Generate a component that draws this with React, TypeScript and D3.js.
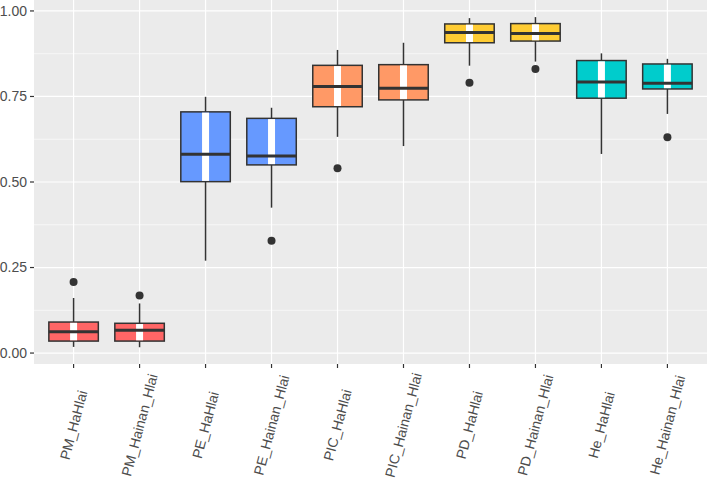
import { useEffect, useRef } from "react";
import * as d3 from "d3";

// group names, in order along the x axis
const groups = [
  "PM_HaHlai", "PM_Hainan_Hlai", "PE_HaHlai", "PE_Hainan_Hlai", "PIC_HaHlai",
  "PIC_Hainan_Hlai", "PD_HaHlai", "PD_Hainan_Hlai", "He_HaHlai", "He_Hainan_Hlai",
];
// box stats
const lowerWhisker = [0.018, 0.017, 0.27, 0.425, 0.632, 0.605, 0.84, 0.852, 0.582, 0.699];
const q1 = [0.035, 0.035, 0.501, 0.55, 0.72, 0.74, 0.907, 0.912, 0.745, 0.772];
const median = [0.062, 0.067, 0.581, 0.576, 0.779, 0.774, 0.937, 0.934, 0.792, 0.789];
const q3 = [0.0906, 0.087, 0.705, 0.686, 0.841, 0.843, 0.962, 0.963, 0.855, 0.845];
const upperWhisker = [0.161, 0.145, 0.749, 0.717, 0.886, 0.907, 0.979, 0.982, 0.876, 0.86];
const outliers = [[0.208], [0.168], [], [0.328], [0.54], [], [0.79], [0.83], [], [0.631]];
const fills = [
  "#FF6666", "#FF6666", "#6699FF", "#6699FF", "#FF9966",
  "#FF9966", "#FFCC33", "#FFCC33", "#00CCCC", "#00CCCC",
];
const yTicks = [0, 0.25, 0.5, 0.75, 1];

export default function App() {
  const ref = useRef<SVGSVGElement | null>(null);

  useEffect(() => {
    const svg = d3.select(ref.current);
    svg.selectAll("*").remove();

    const W = 709, H = 478;
    const panel = { left: 34, right: 707, top: 0, bottom: 364 };
    const font = "Liberation Sans, Arial, sans-serif";

    const x = d3.scaleLinear().domain([0.4, groups.length + 0.6]).range([panel.left, panel.right]);
    const y = d3.scaleLinear().domain([-0.032, 1.032]).range([panel.bottom, panel.top]);
    const unit = x(2) - x(1);
    const boxW = unit * 0.75;
    const innerW = 7;

    svg.attr("width", W).attr("height", H);

    // panel background + grid
    svg.append("rect")
      .attr("x", panel.left).attr("y", panel.top)
      .attr("width", panel.right - panel.left).attr("height", panel.bottom - panel.top)
      .attr("fill", "#EBEBEB");

    const grid = svg.append("g");
    const minor = yTicks.slice(0, -1).map((t) => t + 0.125);
    grid.selectAll(".minor").data(minor).join("line")
      .attr("x1", panel.left).attr("x2", panel.right)
      .attr("y1", (d) => y(d)).attr("y2", (d) => y(d))
      .attr("stroke", "#fff").attr("stroke-width", 0.6);
    grid.selectAll(".major").data(yTicks).join("line")
      .attr("x1", panel.left).attr("x2", panel.right)
      .attr("y1", (d) => y(d)).attr("y2", (d) => y(d))
      .attr("stroke", "#fff").attr("stroke-width", 1.2);
    grid.selectAll(".vmajor").data(groups).join("line")
      .attr("x1", (_, i) => x(i + 1)).attr("x2", (_, i) => x(i + 1))
      .attr("y1", panel.top).attr("y2", panel.bottom)
      .attr("stroke", "#fff").attr("stroke-width", 1.2);

    const dark = "#333333";
    const g = svg.append("g");
    groups.forEach((_, i) => {
      const cx = x(i + 1);
      g.append("line")
        .attr("x1", cx).attr("x2", cx)
        .attr("y1", y(upperWhisker[i])).attr("y2", y(q3[i]))
        .attr("stroke", dark).attr("stroke-width", 1.5);
      g.append("line")
        .attr("x1", cx).attr("x2", cx)
        .attr("y1", y(q1[i])).attr("y2", y(lowerWhisker[i]))
        .attr("stroke", dark).attr("stroke-width", 1.5);
      g.append("rect")
        .attr("x", cx - boxW / 2).attr("y", y(q3[i]))
        .attr("width", boxW).attr("height", y(q1[i]) - y(q3[i]))
        .attr("fill", fills[i]).attr("stroke", dark).attr("stroke-width", 1.5);
      g.append("rect")
        .attr("x", cx - innerW / 2).attr("y", y(q3[i]) + 0.75)
        .attr("width", innerW).attr("height", y(q1[i]) - y(q3[i]) - 1.5)
        .attr("fill", "#fff");
      g.append("line")
        .attr("x1", cx - boxW / 2).attr("x2", cx + boxW / 2)
        .attr("y1", y(median[i])).attr("y2", y(median[i]))
        .attr("stroke", dark).attr("stroke-width", 3);
      g.selectAll(null).data(outliers[i]).join("circle")
        .attr("cx", cx).attr("cy", (d) => y(d)).attr("r", 4)
        .attr("fill", dark);
    });

    // y axis
    const ya = svg.append("g");
    yTicks.forEach((t) => {
      ya.append("line")
        .attr("x1", panel.left - 4).attr("x2", panel.left)
        .attr("y1", y(t)).attr("y2", y(t))
        .attr("stroke", dark).attr("stroke-width", 1.2);
      ya.append("text")
        .attr("x", panel.left - 7).attr("y", y(t))
        .attr("dy", "0.35em").attr("text-anchor", "end")
        .attr("font-family", font)
        .attr("font-size", 14).attr("fill", "#4D4D4D")
        .text(d3.format(".2f")(t));
    });

    // x axis
    const xa = svg.append("g");
    groups.forEach((name, i) => {
      const cx = x(i + 1);
      xa.append("line")
        .attr("x1", cx).attr("x2", cx)
        .attr("y1", panel.bottom).attr("y2", panel.bottom + 4)
        .attr("stroke", dark).attr("stroke-width", 1.2);
      xa.append("text")
        .attr("transform", `translate(${cx},425) rotate(-75)`)
        .attr("text-anchor", "middle").attr("dy", "0.35em")
        .attr("font-family", font)
        .attr("font-size", 14).attr("fill", "#4D4D4D")
        .text(name);
    });
  }, []);

  return <svg ref={ref} style={{ position: "absolute", left: 0, top: 0 }} />;
}
